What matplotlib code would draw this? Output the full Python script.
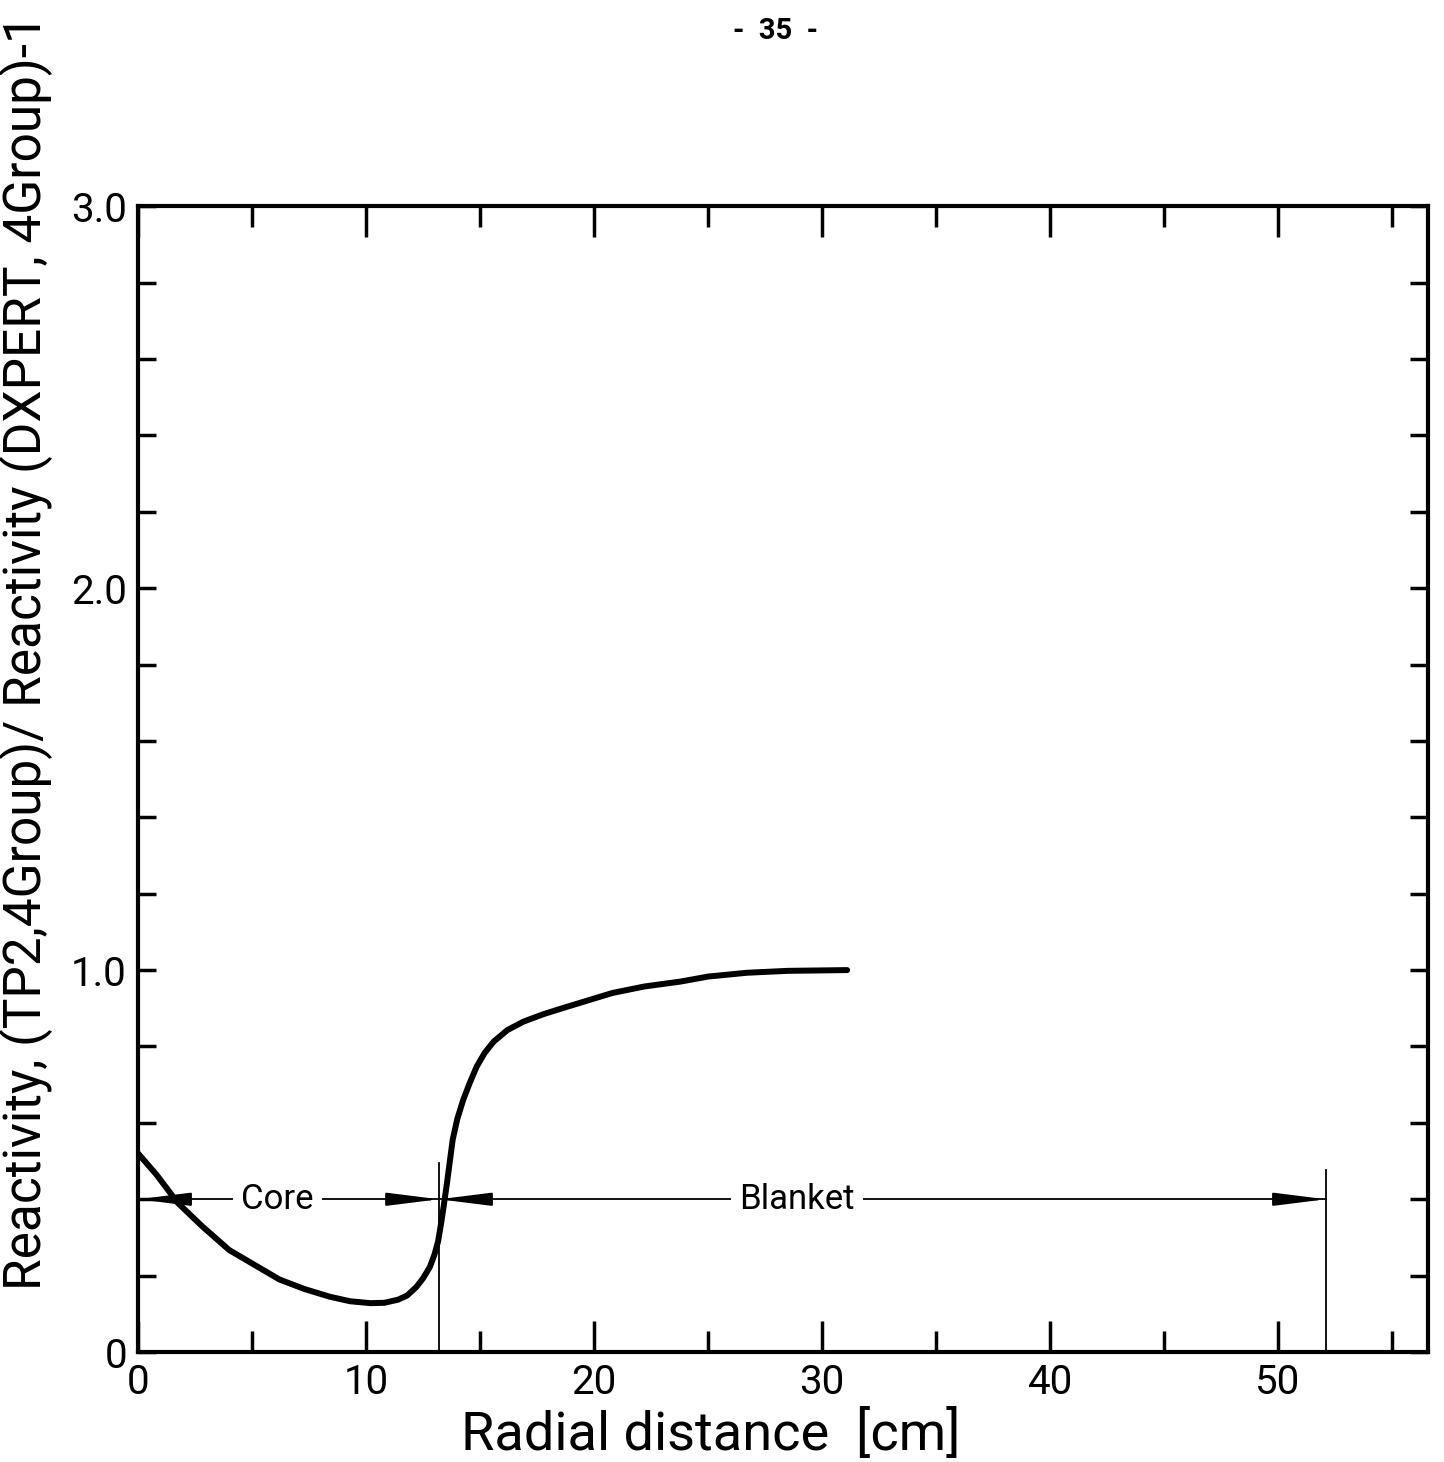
import matplotlib
matplotlib.use("Agg")
import matplotlib.pyplot as plt
import numpy as np

# curve
curve_x = [0.0, 0.8, 1.75, 2.8, 4.0, 5.0, 6.2, 7.3, 8.4, 9.3, 10.2, 10.8, 11.4, 11.8,
           12.2, 12.5, 12.8, 13.0, 13.16, 13.3, 13.4, 13.55, 13.8, 14.0, 14.26, 14.55,
           14.85, 15.2, 15.6, 16.2, 16.9, 17.8, 18.6, 20.8, 22.2, 23.8, 25.0, 26.7, 28.5, 31.1]
curve_y = [0.52, 0.465, 0.39, 0.33, 0.267, 0.232, 0.19, 0.165, 0.145, 0.133, 0.128, 0.129,
           0.137, 0.148, 0.17, 0.193, 0.223, 0.255, 0.29, 0.34, 0.38, 0.443, 0.556, 0.61,
           0.66, 0.705, 0.747, 0.783, 0.813, 0.843, 0.865, 0.885, 0.90, 0.94, 0.957, 0.97,
           0.983, 0.993, 0.998, 1.0]

core_edge = 13.2
blanket_edge = 52.1
zone_y = 0.40
zone_names = ["Core", "Blanket"]
zone_label_x = [6.1, 28.9]

x_ticks = [0, 10, 20, 30, 40, 50]
y_ticks = [0, 1.0, 2.0, 3.0]
y_tick_labels = ["0", "1.0", "2.0", "3.0"]

plt.rcParams['font.family'] = ['Roboto', 'DejaVu Sans']

fig = plt.figure(figsize=(14.44, 14.62), dpi=100)
ax = fig.add_axes([0.0956, 0.0752, 0.8934, 0.7838])

ax.plot(curve_x, curve_y, color="black", lw=4.3, solid_capstyle="round",
        solid_joinstyle="round")

# region boundaries
ax.plot([core_edge, core_edge], [0, 0.495], color="black", lw=1.3)
ax.plot([blanket_edge, blanket_edge], [0, 0.477], color="black", lw=1.3)
ax.plot([0, blanket_edge], [zone_y, zone_y], color="black", lw=1.3)

def head(tip, tail):
    ax.annotate("", xy=(tip, zone_y), xytext=(tail, zone_y),
                arrowprops=dict(arrowstyle="-|>,head_length=1.6,head_width=0.2",
                                color="black", lw=1.5, shrinkA=0, shrinkB=0,
                                mutation_scale=20))

head(0, 2.1)
head(core_edge, 11.7)
head(core_edge, 14.6)
head(blanket_edge, 50.6)

for name, xl in zip(zone_names, zone_label_x):
    ax.text(xl, zone_y, name, ha="center", va="center", fontsize=25,
            bbox=dict(facecolor="white", edgecolor="none", pad=6))

ax.set_xlim(0, 56.58)
ax.set_ylim(0, 3.0)
ax.set_xticks(x_ticks)
ax.set_xticks(np.arange(5, 56, 10), minor=True)
ax.set_yticks(y_ticks)
ax.set_yticklabels(y_tick_labels)
ax.set_yticks(np.arange(0.2, 3.0, 0.2), minor=True)

ax.tick_params(which="both", direction="in", top=True, right=True, width=2.5,
               labelsize=29, pad=8)
ax.tick_params(axis="x", which="major", length=22)
ax.tick_params(axis="x", which="minor", length=15)
ax.tick_params(axis="y", which="both", length=13)
for s in ax.spines.values():
    s.set_linewidth(3)

ax.set_xlabel("Radial distance  [cm]", fontsize=39)
ax.xaxis.set_label_coords(0.444, -0.050)
ax.set_ylabel("Reactivity, (TP2,4Group)/ Reactivity (DXPERT, 4Group)-1",
              fontsize=37)
ax.yaxis.set_label_coords(-0.066, 0.611)

fig.text(0.537, 0.979, "-  35  -", ha="center", va="center", fontsize=21, fontweight="bold")

fig.savefig("out.png", dpi=100)
